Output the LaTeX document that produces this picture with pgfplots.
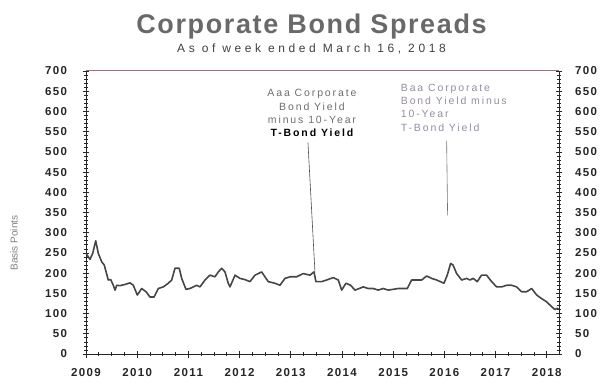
\documentclass[border=0pt]{standalone}
\usepackage{pgfplots}
\pgfplotsset{compat=1.18}
\usepackage{fontspec}
\setmainfont{Liberation Sans}
\newfontfamily\wide[LetterSpace=12]{Liberation Sans}
\newfontfamily\anno[LetterSpace=18]{Liberation Sans}
\newfontfamily\wider[LetterSpace=30]{Liberation Sans}
\newfontfamily\titlefont[LetterSpace=6]{Liberation Sans}
\definecolor{linec}{RGB}{70,70,70}
\definecolor{topred}{RGB}{165,110,120}
\definecolor{titlegray}{RGB}{105,105,105}
\definecolor{annogray}{RGB}{110,110,110}
\definecolor{baacol}{RGB}{150,140,165}
\pgfplotstableread{
x y
2009.000 249
2009.078 234
2009.131 249
2009.190 280
2009.240 249
2009.307 228
2009.357 220
2009.435 183
2009.483 184
2009.533 170
2009.567 158
2009.600 170
2009.664 169
2009.762 172
2009.860 176
2009.924 170
2010.002 146
2010.088 162
2010.172 154
2010.250 141
2010.329 141
2010.412 162
2010.510 166
2010.608 175
2010.674 183
2010.738 212
2010.822 212
2010.869 187
2010.953 160
2011.031 162
2011.163 170
2011.227 166
2011.324 183
2011.422 195
2011.520 191
2011.584 203
2011.650 212
2011.715 203
2011.779 175
2011.813 166
2011.911 195
2012.008 187
2012.105 184
2012.203 179
2012.301 195
2012.432 203
2012.560 179
2012.691 175
2012.789 170
2012.887 187
2012.985 191
2013.115 191
2013.244 199
2013.376 195
2013.453 203
2013.492 179
2013.604 179
2013.701 183
2013.831 189
2013.928 183
2013.994 158
2014.078 175
2014.170 170
2014.254 158
2014.338 162
2014.416 166
2014.514 162
2014.611 162
2014.709 158
2014.807 162
2014.904 158
2015.002 160
2015.100 162
2015.198 162
2015.276 162
2015.361 183
2015.471 183
2015.557 183
2015.654 193
2015.752 187
2015.850 183
2015.992 175
2016.057 195
2016.123 224
2016.170 220
2016.240 199
2016.339 183
2016.435 187
2016.500 183
2016.564 187
2016.642 179
2016.728 195
2016.826 195
2016.924 179
2017.022 166
2017.119 166
2017.217 170
2017.315 170
2017.412 166
2017.510 154
2017.608 154
2017.706 162
2017.803 146
2017.901 137
2017.999 129
2018.096 117
2018.161 110
2018.205 113
2018.230 110
}\aaa
\begin{document}
\begin{tikzpicture}[x=1pt,y=1pt]
\path[use as bounding box] (-86,-32) rectangle (519,354);
\begin{axis}[
  at={(0,0)}, anchor=south west,
  width=473pt, height=283pt, scale only axis,
  xmin=2009, xmax=2018.24, ymin=0, ymax=700,
  axis x line=bottom, axis y line=left,
  axis line style={-, black!85, line width=0.8pt},
  xtick={2009,2010,2011,2012,2013,2014,2015,2016,2017,2018},
  xticklabels={2009,2010,2011,2012,2013,2014,2015,2016,2017,2018},
  minor x tick num=3,
  ytick={0,50,100,150,200,250,300,350,400,450,500,550,600,650,700},
  yticklabels={0,50,100,150,200,250,300,350,400,450,500,550,600,650,700},
  minor y tick num=4,
  tick align=center, major tick length=7pt, minor tick length=3.5pt,
  tick style={black!85, line width=0.7pt},
  ticklabel style={font=\wide\bfseries\fontsize{11.5}{12}\selectfont, text=black!85},
  yticklabel style={xshift=-12pt},
  xticklabel style={yshift=-7pt},
]
\addplot[linec, line width=1.6pt, line join=round] table[x=x,y=y] {\aaa};
\draw[black!70, line width=0.6pt] (axis cs:2013.336,523) -- (axis cs:2013.473,202);
\draw[black!55, line width=0.6pt] (axis cs:2016.045,528) -- (axis cs:2016.064,343);
\begin{scope}[every node/.style={inner sep=0pt, anchor=base, font=\anno\fontsize{10.5}{12}\selectfont}]
\node[text=annogray] at (axis cs:2013.414,636) {Aaa Corporate};
\node[text=annogray] at (axis cs:2013.414,603) {Bond Yield};
\node[text=annogray] at (axis cs:2013.414,570) {minus 10-Year};
\node[text=black, font=\anno\bfseries\fontsize{10.5}{12}\selectfont] at (axis cs:2013.414,537) {T-Bond Yield};
\end{scope}
\begin{scope}[every node/.style={inner sep=0pt, anchor=base west, text=baacol, font=\anno\fontsize{10.5}{12}\selectfont}]
\node at (axis cs:2015.147,649) {Baa Corporate};
\node at (axis cs:2015.147,616) {Bond Yield minus};
\node at (axis cs:2015.147,584) {10-Year};
\node at (axis cs:2015.147,550) {T-Bond Yield};
\end{scope}
\end{axis}
\begin{axis}[
  at={(0,0)}, anchor=south west,
  width=473pt, height=283pt, scale only axis,
  xmin=2009, xmax=2018.24, ymin=0, ymax=700,
  axis x line=none, axis y line=right,
  axis line style={-, black!85, line width=0.8pt},
  ytick={0,50,100,150,200,250,300,350,400,450,500,550,600,650,700},
  yticklabels={0,50,100,150,200,250,300,350,400,450,500,550,600,650,700},
  minor y tick num=4,
  tick align=center, major tick length=7pt, minor tick length=3.5pt,
  tick style={black!85, line width=0.7pt},
  ticklabel style={font=\wide\bfseries\fontsize{11.5}{12}\selectfont, text=black!85},
  yticklabel style={xshift=9pt},
]
\addplot[draw=none] coordinates {(2010,100)};
\end{axis}
\draw[topred, line width=1pt] (0,283) -- (473,283);
\node[anchor=base, text=titlegray, font=\titlefont\bfseries\fontsize{27}{29}\selectfont] at (225.5,320) {Corporate Bond Spreads};
\node[anchor=base, text=black!75, font=\wider\fontsize{12}{13}\selectfont] at (225.5,301) {As of week ended March 16, 2018};
\node[rotate=90, text=black!50, font=\fontsize{10}{11}\selectfont] at (-72,111) {Basis Points};
\end{tikzpicture}
\end{document}
